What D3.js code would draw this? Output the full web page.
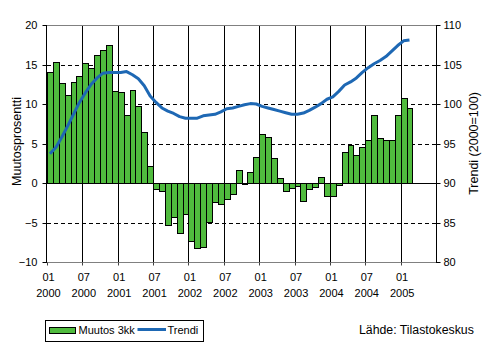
<!DOCTYPE html>
<html>
<head>
<meta charset="utf-8">
<script src="https://cdn.jsdelivr.net/npm/d3@7"></script>
<style>
  html, body { margin: 0; padding: 0; background: #fff; }
  svg { display: block; font-family: Arial, "Liberation Sans", sans-serif; }
</style>
</head>
<body>
<svg id="chart" width="501" height="345"></svg>
<script>
// ---- data ----
const startYear = 2000;
const axisMonthCount = 66; // Jan 2000 .. Jun 2005 (category axis extent)
const changeValues = [
  14.0, 15.3, 12.6, 11.2, 12.8, 13.6, 15.2, 14.5, 16.25, 16.85, 17.5, 11.7,
  11.55, 8.6, 11.8, 9.8, 6.4, 2.1, -0.75, -1.0, -5.3, -4.3, -6.3, -3.9,
  -7.4, -8.2, -8.05, -4.9, -2.4, -2.65, -2.0, -1.4, 1.6, -0.15, 1.35, 3.3,
  6.15, 5.8, 3.15, 0.6, -1.0, -0.6, -0.4, -2.25, -0.75, -0.45, 0.75, -1.65,
  -1.6, -0.25, 3.9, 4.8, 3.55, 4.5, 5.4, 8.65, 5.65, 5.4, 5.4, 8.65,
  10.8, 9.55
];
const trendValues = [
  93.7, 94.5, 95.8, 97.2, 98.7, 100.2, 101.4, 102.5, 103.3, 103.9, 104.0, 104.0,
  104.0, 104.1, 103.7, 103.2, 102.3, 101.0, 100.2, 99.5, 99.1, 98.8, 98.4, 98.2,
  98.2, 98.2, 98.5, 98.6, 98.7, 99.0, 99.4, 99.5, 99.7, 99.9, 100.05, 100.0,
  99.7, 99.5, 99.3, 99.1, 98.9, 98.7, 98.7, 98.85, 99.2, 99.6, 100.05, 100.6,
  100.9, 101.6, 102.4, 102.8, 103.3, 104.0, 104.6, 105.1, 105.5, 106.0, 106.7, 107.4,
  108.0, 108.1
];
const leftTicks = [-10, -5, 0, 5, 10, 15, 20];
const rightTicks = [80, 85, 90, 95, 100, 105, 110];
const xTickMonths = ["01", "07", "01", "07", "01", "07", "01", "07", "01", "07", "01"];
const xTickYears  = ["2000", "2000", "2001", "2001", "2002", "2002", "2003", "2003", "2004", "2004", "2005"];
const leftTitle = "Muutosprosentti";
const rightTitle = "Trendi (2000=100)";
const legendBar = "Muutos 3kk";
const legendLine = "Trendi";
const sourceText = "Lähde: Tilastokeskus";

// categories "YYYY-MM"
const categories = [];
for (let i = 0; i < axisMonthCount; i++) {
  const y = startYear + Math.floor(i / 12), m = (i % 12) + 1;
  categories.push(y + "-" + String(m).padStart(2, "0"));
}
const tickCats = xTickYears.map((y, i) => y + "-" + xTickMonths[i]);

// ---- layout ----
const L = 47, R = 436, T = 25, B = 262;
const barColor = "#50BB3E";
const lineColor = "#1E68B4";

const svg = d3.select("#chart");
const x = d3.scaleBand().domain(categories).range([L, R]).padding(0);
const yL = d3.scaleLinear().domain([-10, 20]).range([B, T]);
const yR = d3.scaleLinear().domain([80, 110]).range([B, T]);
const crisp = v => Math.round(v) + 0.5;

// horizontal dashed gridlines
svg.append("g").selectAll("line")
  .data(leftTicks.filter(v => v !== -10 && v !== 20 && v !== 0))
  .join("line")
  .attr("x1", L).attr("x2", R)
  .attr("y1", d => crisp(yL(d))).attr("y2", d => crisp(yL(d)))
  .attr("stroke", "#000").attr("stroke-width", 1).attr("stroke-dasharray", "4,3");

// vertical gridlines
svg.append("g").selectAll("line")
  .data(tickCats.slice(1))
  .join("line")
  .attr("x1", d => crisp(x(d))).attr("x2", d => crisp(x(d)))
  .attr("y1", T).attr("y2", B)
  .attr("stroke", "#000").attr("stroke-width", 1);

// bars
svg.append("g").selectAll("rect")
  .data(changeValues)
  .join("rect")
  .attr("x", (d, i) => Math.round(x(categories[i])) + 0.5)
  .attr("width", (d, i) => Math.round(x(categories[i]) + x.bandwidth()) - Math.round(x(categories[i])))
  .attr("y", d => Math.round(yL(Math.max(0, d))) + 0.5)
  .attr("height", d => Math.abs(Math.round(yL(d)) - Math.round(yL(0))))
  .attr("fill", barColor).attr("stroke", "#000").attr("stroke-width", 1);

// zero line
svg.append("line")
  .attr("x1", L).attr("x2", R)
  .attr("y1", crisp(yL(0))).attr("y2", crisp(yL(0)))
  .attr("stroke", "#000").attr("stroke-width", 1);

// plot borders (top/bottom grey)
svg.append("line").attr("x1", L).attr("x2", R).attr("y1", crisp(yL(20))).attr("y2", crisp(yL(20)))
  .attr("stroke", "#808080");
svg.append("line").attr("x1", L).attr("x2", R).attr("y1", crisp(yL(-10))).attr("y2", crisp(yL(-10)))
  .attr("stroke", "#808080");

// bottom tick marks
svg.append("g").selectAll("line")
  .data(tickCats)
  .join("line")
  .attr("x1", d => crisp(x(d))).attr("x2", d => crisp(x(d)))
  .attr("y1", crisp(yL(-10))).attr("y2", crisp(yL(-10)) + 3)
  .attr("stroke", "#404040").attr("stroke-width", 1);

// trend line
const line = d3.line()
  .x((d, i) => x(categories[i]) + x.bandwidth() / 2)
  .y(d => yR(d));
svg.append("path")
  .datum(trendValues)
  .attr("d", line)
  .attr("fill", "none").attr("stroke", lineColor).attr("stroke-width", 3)
  .attr("stroke-linejoin", "round");

// left axis
const leftAxis = d3.axisLeft(yL).tickValues(leftTicks).tickSize(4).tickPadding(5);
const gL = svg.append("g").attr("transform", `translate(${crisp(L) - 1},0)`).call(leftAxis);
gL.select(".domain").attr("stroke", "none");
gL.selectAll(".tick line").attr("stroke", "#000");
gL.selectAll(".tick text").attr("font-size", 11).attr("fill", "#000")
  .attr("font-family", "Arial, 'Liberation Sans', sans-serif");
gL.selectAll(".tick").attr("transform", d => `translate(0,${crisp(yL(d))})`);
gL.append("line").attr("x1", 0).attr("x2", 0).attr("y1", T).attr("y2", B + 1).attr("stroke", "#000");

// right axis
const rightAxis = d3.axisRight(yR).tickValues(rightTicks).tickSize(4).tickPadding(3);
const gR = svg.append("g").attr("transform", `translate(${crisp(R)},0)`).call(rightAxis);
gR.select(".domain").attr("stroke", "none");
gR.selectAll(".tick line").attr("stroke", "#000");
gR.selectAll(".tick text").attr("font-size", 11).attr("fill", "#000")
  .attr("font-family", "Arial, 'Liberation Sans', sans-serif");
gR.selectAll(".tick").attr("transform", d => `translate(0,${crisp(yR(d))})`);
gR.append("line").attr("x1", 0).attr("x2", 0).attr("y1", T).attr("y2", B + 1).attr("stroke", "#000");

// x tick labels (two lines)
const gX = svg.append("g").attr("font-size", 11).attr("fill", "#000");
gX.selectAll("text.m").data(tickCats).join("text").attr("class", "m")
  .attr("x", d => x(d) + 1.5).attr("y", 281).attr("text-anchor", "middle")
  .text((d, i) => xTickMonths[i]);
gX.selectAll("text.y").data(tickCats).join("text").attr("class", "y")
  .attr("x", d => x(d) + 1.5).attr("y", 297).attr("text-anchor", "middle")
  .text((d, i) => xTickYears[i]);

// axis titles
svg.append("text").attr("transform", `translate(21,${(T + B) / 2 - 2}) rotate(-90)`)
  .attr("text-anchor", "middle").attr("font-size", 12.5).text(leftTitle);
svg.append("text").attr("transform", `translate(478,${(T + B) / 2 - 0}) rotate(-90)`)
  .attr("text-anchor", "middle").attr("font-size", 12.5).text(rightTitle);

// legend
const lg = svg.append("g");
lg.append("rect").attr("x", 45.5).attr("y", 320.5).attr("width", 158).attr("height", 21)
  .attr("fill", "#fff").attr("stroke", "#000");
lg.append("rect").attr("x", 49.5).attr("y", 327.5).attr("width", 26).attr("height", 6)
  .attr("fill", barColor).attr("stroke", "#000");
lg.append("text").attr("x", 78.5).attr("y", 333.5).attr("font-size", 11).text(legendBar);
lg.append("line").attr("x1", 137.5).attr("x2", 166).attr("y1", 329.5).attr("y2", 329.5)
  .attr("stroke", lineColor).attr("stroke-width", 3);
lg.append("text").attr("x", 167.5).attr("y", 333.5).attr("font-size", 11).text(legendLine);

// source
svg.append("text").attr("x", 359).attr("y", 334).attr("font-size", 12.3).text(sourceText);
</script>
</body>
</html>
